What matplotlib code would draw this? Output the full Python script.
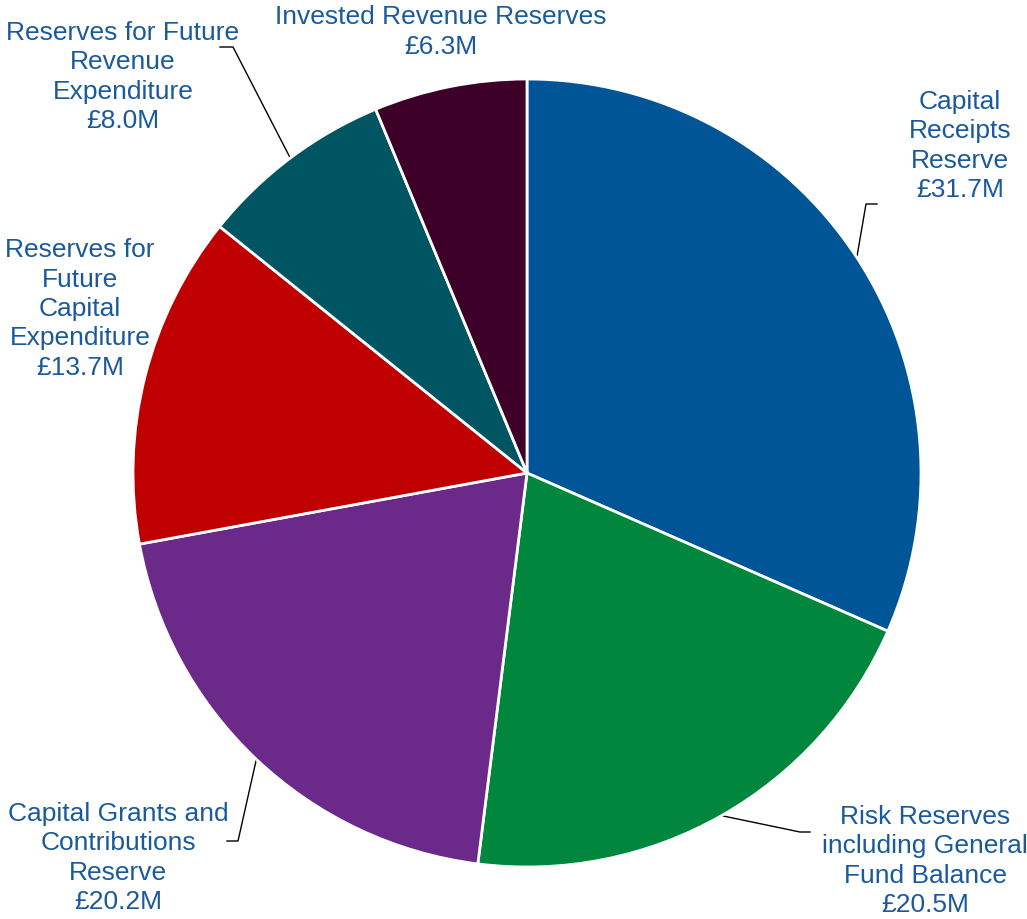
import numpy as np
import matplotlib.pyplot as plt

plt.rcParams['font.family'] = ['Liberation Sans', 'DejaVu Sans']

labels = ['Capital\nReceipts\nReserve',
          'Risk Reserves\nincluding General\nFund Balance',
          'Capital Grants and\nContributions\nReserve',
          'Reserves for\nFuture\nCapital\nExpenditure',
          'Reserves for Future\nRevenue\nExpenditure',
          'Invested Revenue Reserves']
values = [31.7, 20.5, 20.2, 13.7, 8.0, 6.3]
colors = ['#005596', '#00873D', '#6B2A8A', '#C00000', '#005563', '#3D0029']

W, H = 1027, 919
cx, cy, r = 527, H - 473, 394
text_color = '#1A5A9C'

fig = plt.figure(figsize=(W / 100, H / 100), dpi=100)
ax = fig.add_axes([0, 0, 1, 1])

wedges, _ = ax.pie(values, colors=colors, startangle=90, counterclock=False,
                   center=(cx, cy), radius=r, frame=True,
                   wedgeprops=dict(edgecolor='white', linewidth=2))
ax.set_xlim(0, W)
ax.set_ylim(0, H)
ax.set_aspect('equal')
ax.axis('off')

# label centre (x, y from top) and leader line path (from top) for each slice
label_pos = [(960, 146), (925, 861), (118, 858), (80, 309), (123, 77), (441, 32)]
leaders = [[(866, 204), (877, 204)],
           [(800, 832), (810, 832)],
           [(238, 841), (227, 841)],
           None,
           [(233, 47), (220, 47)],
           None]

for w, lab, v, (lx, ly), path in zip(wedges, labels, values, label_pos, leaders):
    ax.text(lx, H - ly, f'{lab}\n£{v:.1f}M', ha='center', va='center',
            fontsize=19, color=text_color, linespacing=1.28)
    if path:
        mid = np.deg2rad((w.theta1 + w.theta2) / 2)
        xs = [cx + r * np.cos(mid)] + [p[0] for p in path]
        ys = [cy + r * np.sin(mid)] + [H - p[1] for p in path]
        ax.plot(xs, ys, color='black', linewidth=1, zorder=0.5)

fig.savefig('out.png', dpi=100)
